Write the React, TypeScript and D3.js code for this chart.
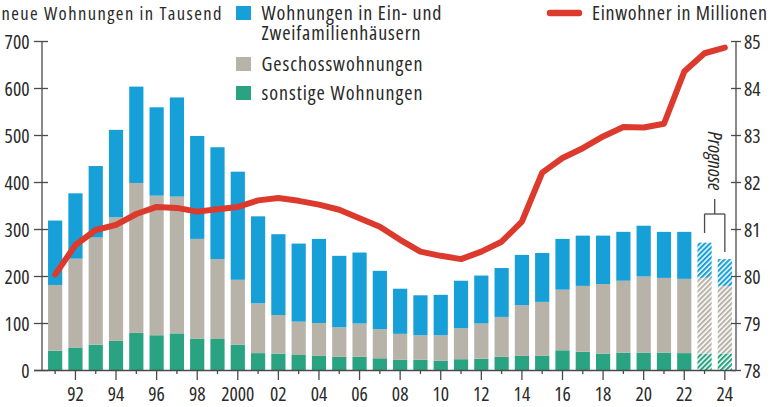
import React from "react";
import * as d3 from "d3";

const years = [1991,1992,1993,1994,1995,1996,1997,1998,1999,2000,2001,2002,2003,2004,2005,2006,2007,2008,2009,2010,2011,2012,2013,2014,2015,2016,2017,2018,2019,2020,2021,2022,2023,2024];
const sonstige = [42,49,55,63,80,75,79,68,67,55,37,36,33,31,29,29,26,23,23,21,24,25,29,31,31,43,40,36,38,38,38,37,36,36];
const geschoss = [140,189,228,263,319,297,291,212,170,138,106,82,71,70,63,71,62,55,52,54,66,75,85,108,115,129,140,148,153,162,159,158,161,144];
const einZwei = [137,139,152,186,205,188,211,219,238,230,185,172,166,179,152,151,124,96,85,86,101,102,104,107,104,108,107,103,104,108,98,100,75,57];
const einwohner = [80.04,80.67,80.99,81.1,81.33,81.48,81.46,81.38,81.43,81.48,81.62,81.67,81.61,81.53,81.42,81.24,81.06,80.78,80.53,80.44,80.37,80.53,80.74,81.17,82.21,82.52,82.73,82.98,83.18,83.17,83.25,84.36,84.75,84.87];
const prognoseYears = [2023, 2024];
const leftTicks = [0,100,200,300,400,500,600,700];
const rightTicks = [78,79,80,81,82,83,84,85];
const yearLabels: Record<number,string> = {1992:"92",1994:"94",1996:"96",1998:"98",2000:"2000",2002:"02",2004:"04",2006:"06",2008:"08",2010:"10",2012:"12",2014:"14",2016:"16",2018:"18",2020:"20",2022:"22",2024:"24"};

const seriesKeys = ["sonstige","geschoss","einZwei"];
const seriesLabels = ["sonstige Wohnungen","Geschosswohnungen","Wohnungen in Ein- und","Zweifamilienhäusern"];
const colors: Record<string,string> = { einZwei: "#179fd7", geschoss: "#b8b3a8", sonstige: "#29a382" };
const red = "#dc3a2d";
const axisColor = "#4a4a4a";
const textColor = "#2a2a2a";
const FONT = "'Open Sans', 'Noto Sans', sans-serif";
const FS_LEG = 20;
const FS_TICK = 19.5;
const FS_TITLE = 18.5;

export default function App() {
  const W = 770, H = 407;
  const x = d3.scaleBand<number>().domain(years).range([45, 735]).paddingInner(0.3).paddingOuter(0.15);
  const yL = d3.scaleLinear().domain([0, 700]).range([370.5, 41.5]);
  const yR = d3.scaleLinear().domain([78, 85]).range([370.5, 41.5]);

  const rows = years.map((yr, i) => ({ year: yr, sonstige: sonstige[i], geschoss: geschoss[i], einZwei: einZwei[i] }));
  const stacked = d3.stack<any>().keys(seriesKeys)(rows);

  const line = d3.line<number>()
    .x((_, i) => (x(years[i]) as number) + x.bandwidth() / 2)
    .y((d) => yR(d))
    .curve(d3.curveLinear);

  const cx = (yr: number) => (x(yr) as number) + x.bandwidth() / 2;
  const x23 = cx(2023), x24 = cx(2024);
  const stemX = (x23 + x24) / 2;

  const base: React.CSSProperties = { fontFamily: FONT, fontStretch: "semi-condensed" as any };

  return (
    <svg width={W} height={H} style={{ position: "absolute", left: 0, top: 0, background: "#fff" }}>
      <defs>
        {seriesKeys.map((k) => (
          <pattern key={k} id={"hatch-" + k} patternUnits="userSpaceOnUse" width={3.6} height={3.6} patternTransform="rotate(45)">
            <rect width={3.6} height={3.6} fill="#ffffff" />
            <rect width={2.1} height={3.6} fill={colors[k]} />
          </pattern>
        ))}
      </defs>
      <rect width={W} height={H} fill="#fff" />

      {stacked.map((s) => (
        <g key={s.key}>
          {s.map((d, i) => {
            const yr = years[i];
            const prog = prognoseYears.includes(yr);
            return (
              <rect key={yr} x={x(yr)} width={x.bandwidth()} y={yL(d[1])} height={yL(d[0]) - yL(d[1])}
                fill={prog ? `url(#hatch-${s.key})` : colors[s.key]} />
            );
          })}
        </g>
      ))}

      <path d={line(einwohner) || ""} fill="none" stroke={red} strokeWidth={6} strokeLinejoin="round" strokeLinecap="round" />

      <line x1={42} x2={42} y1={yL(700)} y2={yL(0)} stroke={axisColor} strokeWidth={1.3} />
      {leftTicks.map((t) => (
        <g key={t}>
          <line x1={34} x2={48} y1={yL(t)} y2={yL(t)} stroke={axisColor} strokeWidth={1.3} />
          <text x={29.5} y={yL(t)} dy="0.36em" textAnchor="end" fontSize={FS_TICK} fill={textColor} style={base}>{t}</text>
        </g>
      ))}

      <line x1={736} x2={736} y1={yR(85)} y2={yR(78)} stroke={axisColor} strokeWidth={1.3} />
      {rightTicks.map((t) => (
        <g key={t}>
          <line x1={731} x2={741} y1={yR(t)} y2={yR(t)} stroke={axisColor} strokeWidth={1.3} />
          <text x={744} y={yR(t)} dy="0.36em" textAnchor="start" fontSize={FS_TICK} fill={textColor} style={base}>{t}</text>
        </g>
      ))}

      <line x1={34} x2={736} y1={370.5} y2={370.5} stroke={axisColor} strokeWidth={1.3} />
      {years.map((yr) => {
        const major = yr % 2 === 0;
        return (
          <g key={yr}>
            <line x1={cx(yr)} x2={cx(yr)} y1={370.5} y2={major ? 380 : 374} stroke={axisColor} strokeWidth={1.3} />
            {yearLabels[yr] && (
              <text x={cx(yr)} y={401} textAnchor="middle" fontSize={FS_TICK} fill={textColor} style={base}>{yearLabels[yr]}</text>
            )}
          </g>
        );
      })}

      <text x={1.5} y={20} fontSize={FS_TITLE} fill={textColor} style={base} textLength={220} lengthAdjust="spacing">neue Wohnungen in Tausend</text>

      <rect x={236} y={6} width={15} height={14} fill={colors.einZwei} />
      <text fontSize={FS_LEG} fill={textColor} style={base}>
        <tspan x={261.5} y={20} textLength={180} lengthAdjust="spacing">{seriesLabels[2]}</tspan>
        <tspan x={261.5} y={40} textLength={159} lengthAdjust="spacing">{seriesLabels[3]}</tspan>
      </text>
      <rect x={236} y={57} width={15} height={14} fill={colors.geschoss} />
      <text x={261.5} y={70.5} fontSize={FS_LEG} fill={textColor} style={base} textLength={161} lengthAdjust="spacing">{seriesLabels[1]}</text>
      <rect x={236} y={86} width={15} height={14} fill={colors.sonstige} />
      <text x={261.5} y={99.5} fontSize={FS_LEG} fill={textColor} style={base} textLength={161} lengthAdjust="spacing">{seriesLabels[0]}</text>

      <line x1={550} x2={579} y1={13} y2={13} stroke={red} strokeWidth={6.5} strokeLinecap="round" />
      <text x={592} y={19.5} fontSize={FS_LEG} fill={textColor} style={base} textLength={175} lengthAdjust="spacing">Einwohner in Millionen</text>

      <text transform={`translate(708,161) rotate(90)`} textAnchor="middle" fontSize={FS_LEG} fontStyle="italic" fill={textColor} style={base}>Prognose</text>
      <g stroke={axisColor} strokeWidth={1.3} fill="none">
        <line x1={stemX} x2={stemX} y1={199} y2={214} />
        <line x1={x23} x2={x24} y1={214} y2={214} />
        <line x1={x23} x2={x23} y1={214} y2={233} />
        <line x1={x24} x2={x24} y1={214} y2={252} />
      </g>
    </svg>
  );
}
